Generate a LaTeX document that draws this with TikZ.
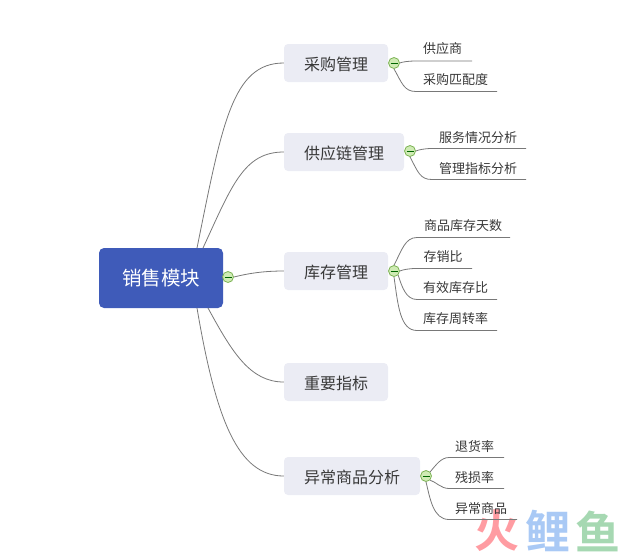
\documentclass[tikz,border=0pt]{standalone}
\usepackage{fontspec}
\setmainfont{Noto Sans CJK SC}
\newfontfamily\wmfont{Noto Sans CJK SC}[BoldFont={Noto Sans CJK SC Bold}]
\definecolor{rootblue}{HTML}{3F5BB9}
\definecolor{topicbg}{HTML}{EBECF4}
\definecolor{inktext}{HTML}{383838}
\definecolor{linkgray}{HTML}{787878}
\definecolor{foldfill}{HTML}{CFEBB4}
\definecolor{folddraw}{HTML}{7DB356}
\definecolor{wmred}{HTML}{FF9CA2}
\definecolor{wmblue}{HTML}{A9C9F5}
\definecolor{wmgreen}{HTML}{A6D8B2}
\tikzset{
  rootbox/.style={fill=rootblue,rounded corners=5pt,text=white,font=\fontsize{19.5}{20}\selectfont,inner sep=0pt},
  topicbox/.style={fill=topicbg,rounded corners=4pt,text=inktext,font=\fontsize{16}{16}\selectfont,inner sep=0pt,minimum height=38pt,text height=15pt,text depth=0pt},
  leaftext/.style={text=inktext,font=\fontsize{13}{13}\selectfont,inner sep=0pt},
  linkline/.style={draw=linkgray,line width=0.8pt},
  foldmark/.style={circle,draw=folddraw,fill=foldfill,line width=0.8pt,minimum size=11pt,inner sep=0pt,
    path picture={\draw[draw=black!60!green,line width=0.8pt] ([xshift=-3.5pt]path picture bounding box.center) -- ([xshift=3.5pt]path picture bounding box.center);}},
  wmark/.style={font=\wmfont\bfseries\fontsize{45}{45}\selectfont,inner sep=0pt}
}
\begin{document}
\begin{tikzpicture}[x=1pt,y=-1pt]
\useasboundingbox (0,0) rectangle (644,555);
% nodes
\node[rootbox,minimum width=124pt,minimum height=60pt] (root) at (161,278) {销售模块};
\node[topicbox,minimum width=104pt] (t1) at (336,63) {采购管理};
\node[topicbox,minimum width=120pt] (t2) at (344,152) {供应链管理};
\node[topicbox,minimum width=104pt] (t3) at (336,271) {库存管理};
\node[topicbox,minimum width=104pt] (t4) at (336,382) {重要指标};
\node[topicbox,minimum width=136pt] (t5) at (352,476) {异常商品分析};
% watermark
\node[wmark,text=wmred] (w1) at (497,531) {火};
\node[wmark,text=wmblue] (w2) at (548,531) {鲤};
\node[wmark,text=wmgreen] (w3) at (598,531) {鱼};
% leaf labels
\node[leaftext] (a1) at (442.5,49) {供应商};
\node[leaftext] (a2) at (455.5,80) {采购匹配度};
\node[leaftext] (b1) at (478,138) {服务情况分析};
\node[leaftext] (b2) at (478,169) {管理指标分析};
\node[leaftext] (c1) at (463,226) {商品库存天数};
\node[leaftext] (c2) at (443,257) {存销比};
\node[leaftext] (c3) at (455.5,288) {有效库存比};
\node[leaftext] (c4) at (455.5,319) {库存周转率};
\node[leaftext] (e1) at (474.5,447) {退货率};
\node[leaftext] (e2) at (474.5,478) {残损率};
\node[leaftext] (e3) at (481,509) {异常商品};
% free ends
\coordinate (r1) at (197,248); \coordinate (r2) at (203,248);
\coordinate (r4) at (208,308); \coordinate (r5) at (197,308);
\coordinate (a1e) at (472,61); \coordinate (a2e) at (497,91.5);
\coordinate (b1e) at (526,148.5); \coordinate (b2e) at (526,179.5);
\coordinate (c1e) at (510,237.5); \coordinate (c2e) at (472,268.5);
\coordinate (c3e) at (497,299.5); \coordinate (c4e) at (497,330.5);
\coordinate (e1e) at (504,457.5); \coordinate (e2e) at (504,488.5); \coordinate (e3e) at (517,519.5);
% fold marks
\node[foldmark] (f0) at (228,277) {};
\node[foldmark] (f1) at (394,63) {};
\node[foldmark] (f2) at (410,151) {};
\node[foldmark] (f3) at (394,271) {};
\node[foldmark] (f5) at (426,476) {};
% connectors
\draw[linkline] (r1) .. controls (222,125) and (232,63) .. (t1.west);
\draw[linkline] (r2) .. controls (232,185) and (244,152) .. (t2.west);
\draw[linkline] (root.east|-f0) -- (f0.west);
\draw[linkline] (f0.east) .. controls (250,273) and (265,271) .. (t3.west);
\draw[linkline] (r4) .. controls (232,352) and (250,382) .. (t4.west);
\draw[linkline] (r5) .. controls (216,420) and (238,476) .. (t5.west);
\draw[linkline] (f1.east) .. controls (402,62) and (408,61) .. (416,61) -- (a1e);
\draw[linkline] (f1.south) .. controls (402,83) and (404,91.5) .. (416,91.5) -- (a2e);
\draw[linkline] (f2.east) .. controls (418,150) and (424,148.5) .. (432,148.5) -- (b1e);
\draw[linkline] (f2.south) .. controls (418,172) and (420,179.5) .. (432,179.5) -- (b2e);
\draw[linkline] (f3.north) .. controls (402,250) and (405,237.5) .. (417,237.5) -- (c1e);
\draw[linkline] (f3.east) .. controls (402,270) and (408,268.5) .. (416,268.5) -- (c2e);
\draw[linkline] (f3.south east) .. controls (402,287) and (406,299.5) .. (417,299.5) -- (c3e);
\draw[linkline] (f3.south) .. controls (398,305) and (400,330.5) .. (417,330.5) -- (c4e);
\draw[linkline] (f5.north east) .. controls (436,465) and (441,457.5) .. (449,457.5) -- (e1e);
\draw[linkline] (f5.south east) .. controls (436,482) and (441,488.5) .. (449,488.5) -- (e2e);
\draw[linkline] (f5.south) .. controls (430,498) and (433,519.5) .. (449,519.5) -- (e3e);
\end{tikzpicture}
\end{document}
